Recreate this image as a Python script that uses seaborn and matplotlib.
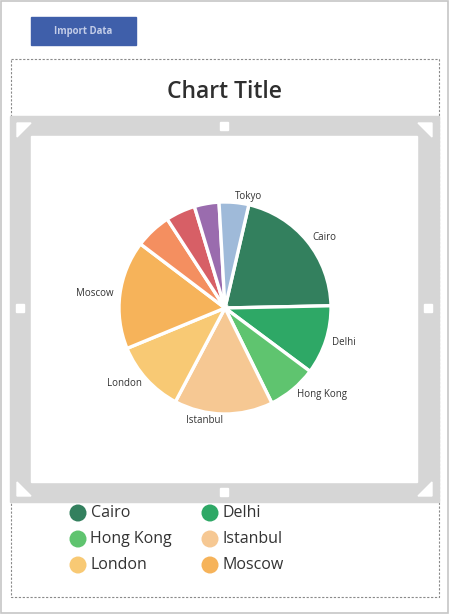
import numpy as np
import pandas as pd
import matplotlib.pyplot as plt
import matplotlib.patches as mpatches
import seaborn as sns

# slice data, clockwise from Cairo
cities = ["Cairo", "Delhi", "Hong Kong", "Istanbul", "London", "Moscow",
          "New York", "Paris", "Sydney", "Tokyo"]
values = [21, 10.5, 7.5, 15, 11, 16.5, 5.5, 4.5, 3.75, 4.5]
colors = ["#33805E", "#2EA866", "#5FC46F", "#F6C893", "#F8C974", "#F6B35A",
          "#F48F60", "#D75F66", "#9A6CAE", "#9FBAD9"]
# only the bigger slices get a label on the chart
slice_labels = ["Cairo", "Delhi", "Hong Kong", "Istanbul", "London", "Moscow",
                "", "", "", "Tokyo"]
legend_cities = cities[:6]

sns.set_theme(style="white")
plt.rcParams['font.family'] = ['Open Sans', 'DejaVu Sans']

W, H = 449, 614
fig = plt.figure(figsize=(W / 100, H / 100), dpi=100)
fig.patch.set_facecolor("white")

# background layer in pixel coords (y down)
bg = fig.add_axes([0, 0, 1, 1])
bg.set_xlim(0, W)
bg.set_ylim(H, 0)
bg.axis("off")

# outer app border
bg.add_patch(mpatches.Rectangle((1, 1), 446.5, 612, fill=False, edgecolor="#c6c6c6", lw=1.2))

# import button
bg.add_patch(mpatches.Rectangle((31, 17), 105, 28, color="#3F5FAA"))
bg.text(83.5, 31.5, "Import Data", ha="center", va="center", fontsize=6.9,
        fontweight="bold", color="#c3cde8")

# dashed selection box
bg.add_patch(mpatches.Rectangle((10.5, 58.5), 428.5, 538, fill=False, edgecolor="#8a8a8a",
                                lw=0.8, linestyle=(0, (2, 1.5))))

bg.text(224.5, 92, "Chart Title", ha="center", va="center", fontsize=16.5,
        fontweight="semibold", color="#2f2f2f")

# grey resize frame around the plot area
bg.add_patch(mpatches.Rectangle((10, 116), 429, 386, color="#d6d6d6"))
bg.add_patch(mpatches.Rectangle((31, 136), 386, 346, color="white"))
for tri in [[(17, 123), (31, 123), (17, 137)],
            [(432, 123), (418, 123), (432, 137)],
            [(17, 496), (17, 482), (31, 496)],
            [(432, 496), (432, 482), (418, 496)]]:
    bg.add_patch(mpatches.Polygon(tri, closed=True, color="white"))
for sx, sy in [(220, 122), (220, 488), (16, 304), (424, 304)]:
    bg.add_patch(mpatches.Rectangle((sx, sy), 8, 8, color="white"))

# legend, two columns
leg = pd.DataFrame({"city": legend_cities})
leg["col"] = np.arange(len(leg)) % 2
leg["row"] = np.arange(len(leg)) // 2
leg["x"] = 78 + leg["col"] * 132
leg["y"] = 513 + leg["row"] * 26
sns.scatterplot(data=leg, x="x", y="y", hue="city", palette=colors[:6], s=150,
                linewidth=0, legend=False, ax=bg)
for _, r in leg.iterrows():
    bg.text(r["x"] + 12.5, r["y"], r["city"], ha="left", va="center",
            fontsize=11.5, color="#333333")
bg.set_xlim(0, W)
bg.set_ylim(H, 0)
bg.axis("off")

# pie axes: centre (225, 308) px, radius 105 px
box = 300
ax = fig.add_axes([(225 - box / 2) / W, (H - 308 - box / 2) / H, box / W, box / H])
ax.pie(values, labels=slice_labels, colors=colors, startangle=77, counterclock=False,
       labeldistance=1.06, wedgeprops=dict(edgecolor="white", linewidth=2.4),
       textprops=dict(fontsize=7, color="#333333"))
lim = (box / 2) / 106
ax.set_xlim(-lim, lim)
ax.set_ylim(-lim, lim)
ax.set_aspect("equal")
ax.axis("off")

fig.savefig("out.png", dpi=100)
